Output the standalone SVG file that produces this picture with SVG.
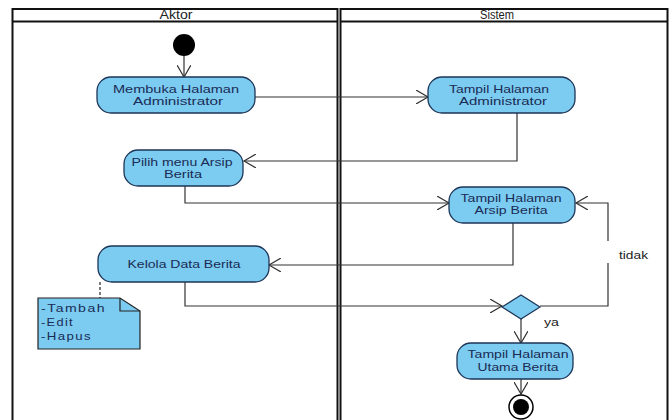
<svg xmlns="http://www.w3.org/2000/svg" width="672" height="420" viewBox="0 0 672 420">
<defs>
<style>
.lane{fill:none;stroke:#111;stroke-width:2}
.act{fill:#7ccbf0;stroke:#1d3557;stroke-width:1.3}
.t{font-family:"Liberation Sans",Arial,sans-serif;font-size:11.5px;fill:#1a2b55;text-anchor:middle}
.h{font-family:"Liberation Sans",Arial,sans-serif;font-size:12px;fill:#222;text-anchor:middle}
.l{font-family:"Liberation Sans",Arial,sans-serif;font-size:11.5px;fill:#222}
.n{font-family:"Liberation Sans",Arial,sans-serif;font-size:11.5px;fill:#1a2b55;letter-spacing:1.2px}
.c{fill:none;stroke:#333;stroke-width:1.2}
</style>
<marker id="arr" markerWidth="14" markerHeight="14" refX="12" refY="7" orient="auto" markerUnits="userSpaceOnUse">
<path d="M0,0 L12,7 L0,14" fill="none" stroke="#333" stroke-width="1.2"/>
</marker>
</defs>
<rect width="672" height="420" fill="#fff"/>
<g id="lanes">
<rect class="lane" x="12.5" y="9" width="325" height="420"/>
<line class="lane" x1="12.5" y1="21.5" x2="337.5" y2="21.5"/>
<rect class="lane" x="340.5" y="9" width="327" height="420"/>
<line class="lane" x1="340.5" y1="21.5" x2="667.5" y2="21.5"/>
<text class="h" x="176" y="19" textLength="33" lengthAdjust="spacingAndGlyphs">Aktor</text>
<text class="h" x="497" y="19" textLength="34" lengthAdjust="spacingAndGlyphs">Sistem</text>
</g>
<g id="connectors">
<path class="c" d="M184,56 V77" marker-end="url(#arr)"/>
<path class="c" d="M255,97 H428" marker-end="url(#arr)"/>
<path class="c" d="M517,113 V161 H244" marker-end="url(#arr)"/>
<path class="c" d="M185,186 V203 H449" marker-end="url(#arr)"/>
<path class="c" d="M513,223 V265 H269" marker-end="url(#arr)"/>
<path class="c" d="M185,282 V306 H502" marker-end="url(#arr)"/>
<path class="c" d="M540,306 H608 V263 M608,241 V203 H576" marker-end="url(#arr)"/>
<path class="c" d="M521,318 V343" marker-end="url(#arr)"/>
<path class="c" d="M521,379 V394" marker-end="url(#arr)"/>
<line x1="100" y1="282" x2="100" y2="298" stroke="#222" stroke-width="1.2" stroke-dasharray="3,2"/>
<text class="l" x="619" y="259" textLength="29" lengthAdjust="spacingAndGlyphs">tidak</text>
<text class="l" x="544" y="326" textLength="15" lengthAdjust="spacingAndGlyphs">ya</text>
</g>
<g id="start"><circle cx="184" cy="45" r="11" fill="#000"/></g>
<g id="n1">
<rect class="act" x="97" y="77" width="158" height="36" rx="14"/>
<text class="t" x="176" y="93" textLength="126" lengthAdjust="spacingAndGlyphs">Membuka Halaman</text>
<text class="t" x="178" y="105" textLength="90" lengthAdjust="spacingAndGlyphs">Administrator</text>
</g>
<g id="n2">
<rect class="act" x="428" y="77" width="147" height="36" rx="14"/>
<text class="t" x="499" y="93" textLength="100" lengthAdjust="spacingAndGlyphs">Tampil Halaman</text>
<text class="t" x="503" y="105" textLength="88" lengthAdjust="spacingAndGlyphs">Administrator</text>
</g>
<g id="n3">
<rect class="act" x="124" y="150" width="119" height="36" rx="14"/>
<text class="t" x="182" y="166" textLength="101" lengthAdjust="spacingAndGlyphs">Pilih menu Arsip</text>
<text class="t" x="183" y="178" textLength="38" lengthAdjust="spacingAndGlyphs">Berita</text>
</g>
<g id="n4">
<rect class="act" x="449" y="187" width="126" height="36" rx="14"/>
<text class="t" x="511" y="202" textLength="101" lengthAdjust="spacingAndGlyphs">Tampil Halaman</text>
<text class="t" x="511" y="214" textLength="73" lengthAdjust="spacingAndGlyphs">Arsip Berita</text>
</g>
<g id="n5">
<rect class="act" x="98" y="246" width="171" height="36" rx="14"/>
<text class="t" x="184" y="268" textLength="113" lengthAdjust="spacingAndGlyphs">Kelola Data Berita</text>
</g>
<g id="note">
<path d="M38,298 H120 L140,311 V349 H38 Z" fill="#7ccbf0" stroke="#222" stroke-width="1.2"/>
<path d="M120,298 V311 H140" fill="none" stroke="#222" stroke-width="1.2"/>
<text class="n" x="41" y="312" textLength="65" lengthAdjust="spacingAndGlyphs">-Tambah</text>
<text class="n" x="41" y="326" textLength="33" lengthAdjust="spacingAndGlyphs">-Edit</text>
<text class="n" x="41" y="340" textLength="51" lengthAdjust="spacingAndGlyphs">-Hapus</text>
</g>
<g id="decision">
<path d="M502,307 L521,295 L540,307 L521,319 Z" fill="#7ccbf0" stroke="#1d3557" stroke-width="1.2"/>
</g>
<g id="n6">
<rect class="act" x="457" y="343" width="116" height="36" rx="14"/>
<text class="t" x="518" y="358" textLength="101" lengthAdjust="spacingAndGlyphs">Tampil Halaman</text>
<text class="t" x="518" y="371" textLength="81" lengthAdjust="spacingAndGlyphs">Utama Berita</text>
</g>
<g id="end">
<circle cx="521" cy="407" r="12" fill="#fff" stroke="#000" stroke-width="1.5"/>
<circle cx="521" cy="407" r="8" fill="#000"/>
</g>
</svg>
